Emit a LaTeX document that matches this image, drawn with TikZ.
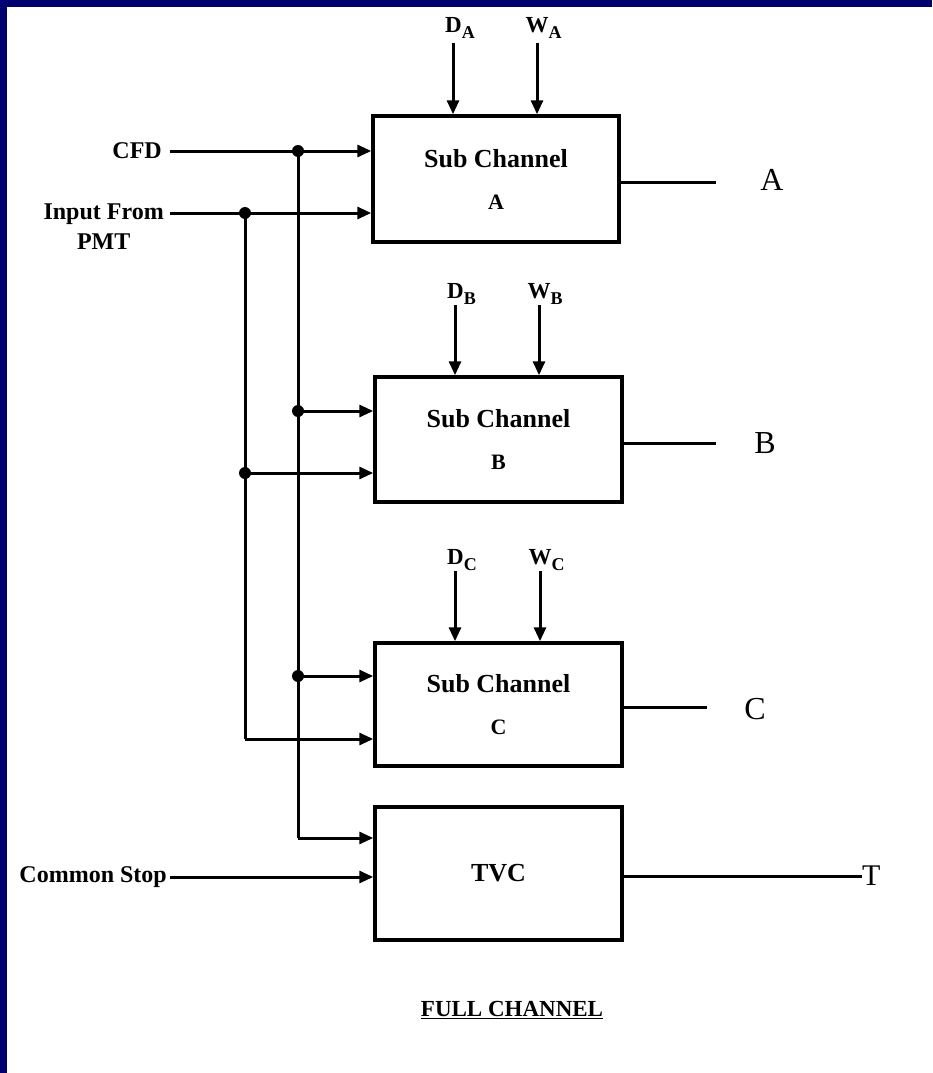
\documentclass[tikz,border=0pt]{standalone}
\usepackage{fontspec}
\setmainfont{Liberation Serif}
\usetikzlibrary{arrows.meta}
\definecolor{navy}{RGB}{0,0,112}
\newcommand{\subl}[1]{\raisebox{-6pt}{\fontsize{18}{18}\selectfont #1}}
\begin{document}
\begin{tikzpicture}[x=1pt,y=-1pt,
  wire/.style={line width=3pt},
  arr/.style={wire,-{Triangle[length=14pt,width=12pt]}},
  blk/.style={draw,line width=3.5pt,minimum width=247pt,inner sep=0pt,
    font=\bfseries\fontsize{26}{42}\selectfont,align=center},
  lbl/.style={font=\bfseries\fontsize{24}{30}\selectfont,inner sep=0pt,align=center},
  sym/.style={font=\bfseries\fontsize{23}{23}\selectfont,inner sep=0pt,anchor=base west},
  outl/.style={font=\fontsize{32}{32}\selectfont,inner sep=0pt},
  jdot/.style={circle,fill,inner sep=0pt,minimum size=12pt},
]
\fill[navy] (0,0) rectangle (932,1073);
\fill[white] (7,7) rectangle (932,1073);
\useasboundingbox (0,0) rectangle (932,1073);

% blocks
\node[blk,minimum height=126pt,minimum width=246pt] (boxA) at (496,179)
  {Sub Channel\\{\fontsize{22}{22}\selectfont A}};
\node[blk,minimum height=125pt] (boxB) at (498.5,439.5)
  {Sub Channel\\{\fontsize{22}{22}\selectfont B}};
\node[blk,minimum height=123pt] (boxC) at (498.5,704.5)
  {Sub Channel\\{\fontsize{22}{22}\selectfont C}};
\node[blk,minimum height=133pt] (tvc) at (498.5,873.5) {TVC};

% left labels
\node[lbl,anchor=east] (lCFD) at (162,151) {CFD};
\node[lbl,anchor=east] (lIn) at (164,227) {Input From\\PMT};
\node[lbl,anchor=east] (lCS) at (167,877) {Common Stop};

% top labels
\node[sym] (dA) at (445,33) {D\subl{A}};
\node[sym] (wA) at (525.5,33) {W\subl{A}};
\node[sym] (dB) at (447,298) {D\subl{B}};
\node[sym] (wB) at (527.5,298) {W\subl{B}};
\node[sym] (dC) at (447,564) {D\subl{C}};
\node[sym] (wC) at (528.5,564) {W\subl{C}};

\coordinate (dAt) at (453,43);
\coordinate (wAt) at (537,43);
\coordinate (dBt) at (455,305);
\coordinate (wBt) at (539,305);
\coordinate (dCt) at (455,571);
\coordinate (wCt) at (540,571);
\foreach \p/\b in {dAt/boxA,wAt/boxA,dBt/boxB,wBt/boxB,dCt/boxC,wCt/boxC}
  \draw[arr] (\p) -- (\p |- \b.north);

% junctions
\node[jdot] (j1) at (298,151) {};
\node[jdot] (j2) at (245,213) {};
\node[jdot] (j3) at (298,411) {};
\node[jdot] (j4) at (245,473) {};
\node[jdot] (j5) at (298,676) {};
\coordinate (inS) at (170,213);
\coordinate (cIn) at (245,739);
\coordinate (tIn) at (298,838);

% inputs
\draw[arr,shorten <=8pt] (lCFD.east) -- (lCFD.east -| boxA.west);
\draw[arr] (inS) -- (inS -| boxA.west);
\draw[wire] (j1.center) -- (j3.center) -- (j5.center) -- (tIn);
\draw[arr] (tIn) -- (tIn -| tvc.west);
\draw[wire] (j2.center) -- (j4.center) -- (cIn);
\draw[arr] (cIn) -- (cIn -| boxC.west);
\draw[arr] (j3.center) -- (j3 -| boxB.west);
\draw[arr] (j4.center) -- (j4 -| boxB.west);
\draw[arr] (j5.center) -- (j5 -| boxC.west);
\draw[arr,shorten <=3pt] (lCS.east) -- (lCS.east -| tvc.west);

% outputs
\node[outl] (oA) at (772,180) {A};
\node[outl] (oB) at (765,443) {B};
\node[outl] (oC) at (755,709) {C};
\node[outl,anchor=west,font=\fontsize{30}{30}\selectfont] (oT) at (862,876) {T};
\coordinate (eA) at (716,182);
\coordinate (eB) at (716,443);
\coordinate (eC) at (707,707);
\draw[wire] (eA -| boxA.east) -- (eA);
\draw[wire] (eB -| boxB.east) -- (eB);
\draw[wire] (eC -| boxC.east) -- (eC);
\draw[wire] (oT.west -| tvc.east) -- (oT.west);

% title
\node[font=\bfseries\fontsize{23}{23}\selectfont,inner sep=0pt] (title) at (512,1010)
  {\underline{FULL CHANNEL}};
\end{tikzpicture}
\end{document}
